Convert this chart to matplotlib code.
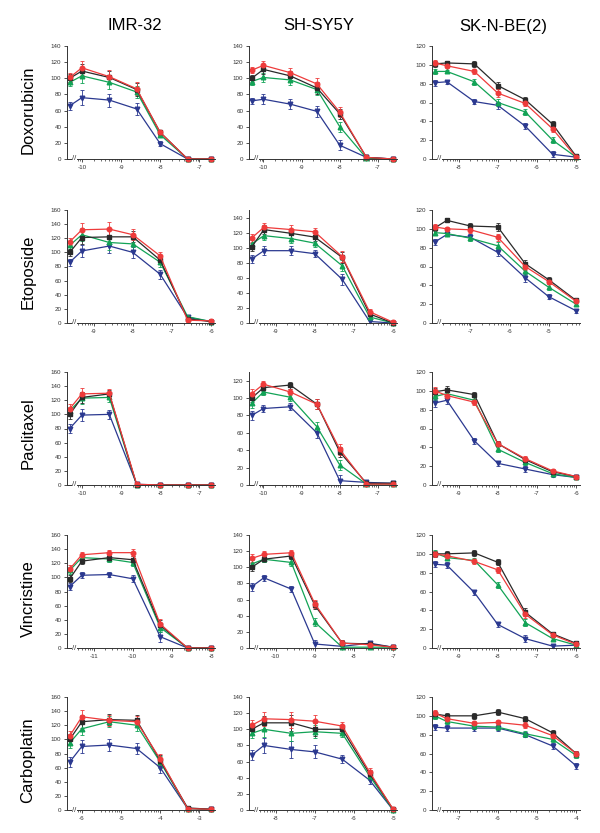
import matplotlib
matplotlib.use("Agg")
import matplotlib.pyplot as plt
import numpy as np

plt.rcParams['font.family'] = ['Liberation Sans', 'DejaVu Sans']

# Lineas celulares (columnas) y drogas (filas)
cell_lines = ["IMR-32", "SH-SY5Y", "SK-N-BE(2)"]
drugs = ["Doxorubicin", "Etoposide", "Paclitaxel", "Vincristine", "Carboplatin"]

# --- Doxorubicin ---  (primer valor de cada serie = control, sin droga)
doxo_doses = [[-10, -9.3, -8.6, -8, -7.3, -6.7],
              [-10, -9.3, -8.6, -8, -7.3, -6.6],
              [-8.3, -7.6, -7, -6.3, -5.6, -5]]
doxo_ticks = [[-10, -9, -8, -7], [-10, -9, -8, -7], [-8, -7, -6, -5]]
doxo_ymax = [140, 140, 120]
doxo_ytop = [140, 140, 120]
doxo_black = [[100, 109, 101, 86, 33, 0, 0], [100, 111, 103, 88, 56, 2, 0], [101, 102, 101, 78, 63, 37, 3]]
doxo_red = [[101, 113, 102, 87, 33, 0, 0], [110, 116, 107, 93, 58, 2, 0], [102, 99, 93, 70, 59, 32, 2]]
doxo_green = [[95, 103, 95, 83, 30, 0, 0], [96, 101, 98, 86, 40, 1, 0], [93, 93, 82, 60, 50, 20, 2]]
doxo_blue = [[66, 76, 73, 62, 19, 0, 0], [72, 74, 68, 59, 17, 2, 0], [81, 82, 61, 57, 35, 5, 2]]
doxo_err = [[5, 9, 8, 8, 3, 1, 1], [4, 6, 6, 7, 6, 1, 1], [3, 2, 3, 4, 3, 3, 2]]

# --- Etoposide ---
etop_doses = [[-9.3, -8.6, -8, -7.3, -6.6, -6],
              [-9.3, -8.6, -8, -7.3, -6.6, -6],
              [-7.6, -7, -6.3, -5.6, -5, -4.3]]
etop_ticks = [[-9, -8, -7, -6], [-9, -8, -7, -6], [-7, -6, -5]]
etop_ymax = [160, 140, 120]
etop_ytop = [160, 150, 120]
etop_black = [[100, 121, 122, 122, 89, 6, 2], [101, 124, 119, 114, 87, 12, 0], [101, 109, 103, 102, 63, 46, 24]]
etop_red = [[115, 132, 133, 125, 95, 4, 3], [113, 127, 124, 121, 88, 15, 1], [102, 100, 99, 91, 60, 44, 23]]
etop_green = [[110, 125, 114, 112, 86, 9, 2], [105, 116, 112, 106, 76, 8, 0], [96, 95, 90, 82, 55, 38, 20]]
etop_blue = [[86, 102, 109, 100, 69, 8, 2], [85, 96, 96, 92, 58, 2, 0], [86, 94, 91, 75, 48, 28, 13]]
etop_err = [[5, 9, 10, 8, 6, 3, 2], [5, 6, 6, 5, 7, 3, 1], [3, 2, 3, 4, 4, 3, 2]]

# --- Paclitaxel ---
pacl_doses = [[-10, -9.3, -8.6, -8, -7.3, -6.7],
              [-10, -9.3, -8.6, -8, -7.3, -6.6],
              [-9.3, -8.6, -8, -7.3, -6.6, -6]]
pacl_ticks = [[-10, -9, -8, -7], [-10, -9, -8, -7], [-9, -8, -7, -6]]
pacl_ymax = [160, 120, 120]
pacl_ytop = [160, 130, 120]
pacl_black = [[100, 124, 129, 0, 0, 0, 0], [100, 112, 115, 93, 38, 2, 2], [99, 101, 96, 44, 27, 14, 9]]
pacl_red = [[108, 129, 130, 1, 0, 0, 0], [105, 116, 107, 93, 41, 1, 1], [100, 95, 88, 44, 28, 15, 9]]
pacl_green = [[105, 123, 124, 0, 0, 0, 0], [94, 107, 101, 67, 23, 1, 1], [94, 97, 90, 38, 24, 12, 8]]
pacl_blue = [[80, 99, 100, 1, 0, 0, 0], [80, 88, 90, 60, 5, 3, 2], [87, 90, 47, 23, 17, 11, 8]]
pacl_err = [[6, 8, 6, 1, 1, 1, 1], [5, 4, 4, 6, 6, 2, 2], [4, 4, 3, 3, 3, 2, 2]]

# --- Vincristine ---
vinc_doses = [[-11.3, -10.6, -10, -9.3, -8.6, -8],
              [-10.3, -9.6, -9, -8.3, -7.6, -7],
              [-9.3, -8.6, -8, -7.3, -6.6, -6]]
vinc_ticks = [[-11, -10, -9, -8], [-10, -9, -8, -7], [-9, -8, -7, -6]]
vinc_ymax = [160, 140, 120]
vinc_ytop = [160, 140, 120]
vinc_black = [[98, 123, 128, 125, 32, 0, 0], [100, 110, 114, 53, 6, 5, 1], [100, 100, 101, 91, 38, 15, 5]]
vinc_red = [[112, 132, 135, 135, 34, 0, 0], [111, 116, 118, 55, 6, 4, 1], [100, 98, 92, 83, 36, 14, 4]]
vinc_green = [[110, 128, 126, 121, 29, 0, 0], [104, 110, 106, 32, 1, 1, 1], [101, 96, 93, 67, 27, 10, 3]]
vinc_blue = [[87, 103, 104, 98, 16, 0, 0], [76, 87, 73, 5, 2, 6, 1], [89, 88, 59, 25, 10, 2, 3]]
vinc_err = [[5, 4, 4, 5, 7, 1, 1], [5, 4, 4, 5, 4, 2, 2], [3, 3, 3, 3, 4, 2, 2]]

# --- Carboplatin ---
carb_doses = [[-6, -5.3, -4.6, -4, -3.3, -2.7],
              [-8.3, -7.6, -7, -6.3, -5.6, -5],
              [-7.3, -6.6, -6, -5.3, -4.6, -4]]
carb_ticks = [[-6, -5, -4, -3], [-8, -7, -6, -5], [-7, -6, -5, -4]]
carb_ymax = [160, 140, 120]
carb_ytop = [160, 140, 120]
carb_black = [[100, 125, 128, 127, 70, 3, 1], [100, 108, 108, 100, 100, 45, 1], [102, 100, 100, 104, 97, 82, 60]]
carb_red = [[105, 132, 127, 125, 72, 2, 1], [105, 113, 112, 110, 104, 47, 1], [103, 97, 92, 93, 90, 79, 60]]
carb_green = [[95, 115, 125, 120, 68, 2, 1], [95, 100, 95, 97, 95, 42, 0], [100, 94, 89, 88, 81, 75, 58]]
carb_blue = [[68, 90, 92, 87, 60, 2, 1], [68, 80, 75, 72, 63, 37, 0], [88, 87, 87, 87, 80, 68, 47]]
carb_err = [[7, 9, 8, 8, 8, 2, 2], [6, 9, 10, 8, 5, 5, 1], [3, 3, 3, 3, 3, 3, 3]]

rows = [
    (doxo_doses, doxo_ticks, doxo_ymax, doxo_ytop, doxo_black, doxo_red, doxo_green, doxo_blue, doxo_err),
    (etop_doses, etop_ticks, etop_ymax, etop_ytop, etop_black, etop_red, etop_green, etop_blue, etop_err),
    (pacl_doses, pacl_ticks, pacl_ymax, pacl_ytop, pacl_black, pacl_red, pacl_green, pacl_blue, pacl_err),
    (vinc_doses, vinc_ticks, vinc_ymax, vinc_ytop, vinc_black, vinc_red, vinc_green, vinc_blue, vinc_err),
    (carb_doses, carb_ticks, carb_ymax, carb_ytop, carb_black, carb_red, carb_green, carb_blue, carb_err),
]

# colores y marcadores de las series (orden de dibujo: azul, verde, negro, rojo)
styles = [("blue", "#2b3990", "v"), ("green", "#12a356", "^"),
          ("black", "#2a2a2a", "s"), ("red", "#ee3b3b", "o")]

W, H = 600, 833
fig = plt.figure(figsize=(W / 100, H / 100), dpi=100)

col_left = [67, 249, 432]
row_top = [46, 210, 372, 535, 697]
ax_w, ax_h = 148, 113
lead, tail = 0.38, 0.1


def draw_panel(ax, doses, ticks, ymax, ytop, series, err):
    d0 = doses[0]
    x = [d0 - 0.31] + list(doses)
    for (name, col, mk) in styles:
        vals = np.array(series[name], dtype=float)
        e = np.array(err, dtype=float)
        low = np.minimum(e, vals)
        cont = ax.errorbar(x, vals, yerr=[low, e], color=col, marker=mk, ms=3.3,
                           lw=0.9, elinewidth=0.6, capsize=1.4, capthick=0.6,
                           mec=col, mfc=col)
        for art in cont.get_children():
            art.set_clip_on(False)
    ax.set_xlim(d0 - lead, doses[-1] + tail)
    ax.set_ylim(0, ytop)
    ax.set_yticks(np.arange(0, ymax + 1, 20))
    ax.set_xticks(ticks)
    ax.set_xticklabels([f"{t}" for t in ticks])
    # ticks menores logaritmicos
    minors = []
    for dec in range(int(np.floor(d0)) - 1, int(np.ceil(doses[-1])) + 1):
        for k in range(2, 10):
            m = dec + np.log10(k)
            if d0 - 0.2 < m < doses[-1] + tail:
                minors.append(m)
    ax.set_xticks(minors, minor=True)
    for s in ["top", "right"]:
        ax.spines[s].set_visible(False)
    for s in ["left", "bottom"]:
        ax.spines[s].set_color("#333333")
        ax.spines[s].set_linewidth(0.7)
    ax.tick_params(axis="both", which="major", direction="out", length=2.5,
                   width=0.6, labelsize=4.5, colors="#333333", pad=1.5)
    ax.tick_params(axis="x", which="minor", direction="out", length=1.3, width=0.5,
                   colors="#333333")
    # corte del eje x entre control y primera dosis
    ax.text(d0 - 0.19, 0, "//", fontsize=5.5, ha="center", va="center", color="#333333",
            bbox=dict(facecolor="white", edgecolor="none", pad=0.3), clip_on=False, zorder=5)


for r, row in enumerate(rows):
    doses, ticks, ymax, ytop, black, red, green, blue, err = row
    for c in range(3):
        left = col_left[c] / W
        bottom = 1 - (row_top[r] + ax_h) / H
        ax = fig.add_axes([left, bottom, ax_w / W, ax_h / H])
        series = {"black": black[c], "red": red[c], "green": green[c], "blue": blue[c]}
        draw_panel(ax, doses[c], ticks[c], ymax[c], ytop[c], series, err[c])

# titulos de columnas
title_x = [135, 319, 503]
for c, name in enumerate(cell_lines):
    fig.text(title_x[c] / W, 1 - 26 / H, name, fontsize=12, ha="center", va="center")

# nombres de drogas (vertical)
label_y = [110, 272, 433, 599, 760]
for r, name in enumerate(drugs):
    fig.text(28 / W, 1 - label_y[r] / H, name, fontsize=12, rotation=90,
             ha="center", va="center")

fig.savefig("out.png", dpi=100)
